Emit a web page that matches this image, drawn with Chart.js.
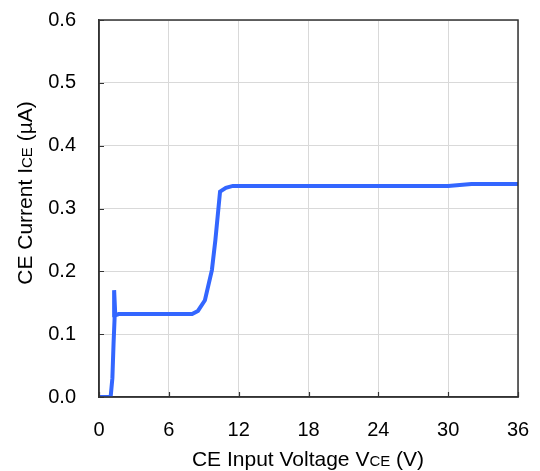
<!DOCTYPE html>
<html>
<head>
<meta charset="utf-8">
<script src="https://cdn.jsdelivr.net/npm/chart.js@4"></script>
<style>
  html, body { margin: 0; padding: 0; background: #fff; }
  #wrap { width: 540px; height: 471px; }
</style>
</head>
<body>
<div id="wrap"><canvas id="grafico"></canvas></div>
<script>
// datos
var voltaje = [0, 1.0, 1.15, 1.25, 1.35, 1.3, 1.4, 1.7, 4, 8.0, 8.5, 9.1, 9.7, 10.0, 10.4, 10.9, 11.5, 14, 18, 22, 26, 30, 32, 34, 36];
var corriente = [0, 0, 0.03, 0.085, 0.13, 0.17, 0.13, 0.132, 0.132, 0.132, 0.137, 0.154, 0.202, 0.25, 0.327, 0.333, 0.336, 0.336, 0.336, 0.336, 0.336, 0.336, 0.339, 0.339, 0.339];
var ticksX = [0, 6, 12, 18, 24, 30, 36];
var ticksY = [0, 0.1, 0.2, 0.3, 0.4, 0.5, 0.6];

var fuente = "'Liberation Sans', Arial, sans-serif";

// dibuja titulos con subindice, marco y marcas hacia adentro
var extras = {
  id: "extras",
  afterDraw: function (chart) {
    var c = chart.ctx;
    var a = chart.chartArea;
    var sx = chart.scales.x, sy = chart.scales.y;
    c.save();
    c.strokeStyle = "#333";
    c.lineWidth = 1.5;
    c.strokeRect(a.left, a.top, a.right - a.left, a.bottom - a.top);
    c.lineWidth = 1.2;
    c.beginPath();
    ticksY.forEach(function (v) {
      var y = Math.round(sy.getPixelForValue(v)) + 0.5;
      c.moveTo(a.left, y); c.lineTo(a.left + 5, y);
    });
    ticksX.forEach(function (v) {
      var x = Math.round(sx.getPixelForValue(v)) + 0.5;
      c.moveTo(x, a.bottom); c.lineTo(x, a.bottom - 5);
    });
    c.stroke();

    function partes(p) {
      var w = 0;
      p.forEach(function (t) { c.font = t[1] + "px " + fuente; w += c.measureText(t[0]).width; });
      return w;
    }
    function escribir(p, x0, y0) {
      var x = x0;
      p.forEach(function (t) {
        c.font = t[1] + "px " + fuente;
        c.fillText(t[0], x, y0);
        x += c.measureText(t[0]).width;
      });
    }
    c.fillStyle = "#000";
    c.textBaseline = "alphabetic";
    c.textAlign = "left";
    var tx = [["CE Input Voltage V", 21], ["CE", 15], [" (V)", 21]];
    var wx = partes(tx);
    escribir(tx, 308 - wx / 2, 466);

    var ty = [["CE Current I", 21], ["CE", 15], [" (\u00b5A)", 21]];
    var wy = partes(ty);
    c.translate(32, 193);
    c.rotate(-Math.PI / 2);
    escribir(ty, -wy / 2, 0);
    c.restore();
  }
};

var ctx = document.getElementById("grafico").getContext("2d");
var grafico = new Chart(ctx, {
  type: "scatter",
  data: {
    datasets: [
      {
        label: "ICE",
        data: voltaje.map(function (v, i) { return { x: v, y: corriente[i] }; }),
        showLine: true,
        borderColor: "rgb(51,102,255)",
        backgroundColor: "rgb(51,102,255)",
        borderWidth: 4,
        pointRadius: 0,
        tension: 0,
      },
    ],
  },
  options: {
    responsive: true,
    maintainAspectRatio: false,
    animation: false,
    layout: { padding: { top: 20, right: 22, left: 0, bottom: 0 } },
    plugins: { legend: { display: false }, tooltip: { enabled: false } },
    scales: {
      x: {
        type: "linear",
        min: 0,
        max: 36,
        afterFit: function (s) { s.height = 74; s.paddingLeft = 0; s.paddingRight = 0; },
        afterBuildTicks: function (s) { s.ticks = ticksX.map(function (v) { return { value: v }; }); },
        ticks: { color: "#000", font: { family: fuente, size: 20 }, padding: 21 },
        grid: { color: "#d9d9d9", lineWidth: 1, drawTicks: false },
        border: { color: "#333", width: 1.5 },
      },
      y: {
        type: "linear",
        min: 0,
        max: 0.6,
        afterFit: function (s) { s.width = 99; s.paddingTop = 0; s.paddingBottom = 0; },
        afterBuildTicks: function (s) { s.ticks = ticksY.map(function (v) { return { value: v }; }); },
        ticks: {
          color: "#000",
          font: { family: fuente, size: 20 },
          padding: 23,
          callback: function (v) { return Number(v).toFixed(1); },
        },
        grid: { color: "#d9d9d9", lineWidth: 1, drawTicks: false },
        border: { color: "#333", width: 1.5 },
      },
    },
  },
  plugins: [extras],
});
</script>
</body>
</html>
